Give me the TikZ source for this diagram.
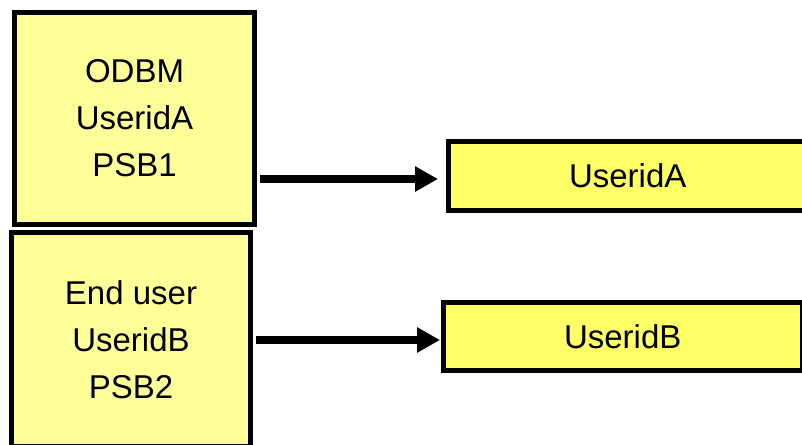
\documentclass[tikz,border=0pt]{standalone}
\usepackage{fontspec}
\setmainfont{Liberation Sans}
\usetikzlibrary{arrows.meta}
\definecolor{paleyellow}{HTML}{FFFF99}
\definecolor{brightyellow}{HTML}{FFFF66}
\tikzset{
  box/.style={draw=black, line width=5pt, align=center, inner sep=0pt,
    font=\fontsize{33}{47}\selectfont},
  srcbox/.style={box, fill=paleyellow},
  dstbox/.style={box, fill=brightyellow},
  arr/.style={line width=8pt, -{Triangle[length=23pt,width=24pt]}}
}
\begin{document}
\begin{tikzpicture}[x=1pt,y=1pt]
\useasboundingbox (0,0) rectangle (802,444);
% source boxes on the left
\node[srcbox, minimum width=240pt, minimum height=212pt] (L1) at (134.5,325.5)
  {ODBM\\UseridA\\PSB1};
\node[srcbox, minimum width=239pt, minimum height=213.5pt] (L2) at (131,104.75)
  {End user\\UseridB\\PSB2};
% target boxes on the right
\node[dstbox, minimum width=358.5pt, minimum height=69pt] (R1) at (627.75,268)
  {UseridA};
\node[dstbox, minimum width=358.5pt, minimum height=68pt] (R2) at (622.75,107)
  {UseridB};
% connectors
\draw[arr] ([xshift=3pt]L1.east |- 0,265) -- ([xshift=-8pt]R1.west |- 0,265);
\draw[arr] ([xshift=3pt]L2.east |- 0,104) -- ([xshift=-1pt]R2.west |- 0,104);
\end{tikzpicture}
\end{document}
